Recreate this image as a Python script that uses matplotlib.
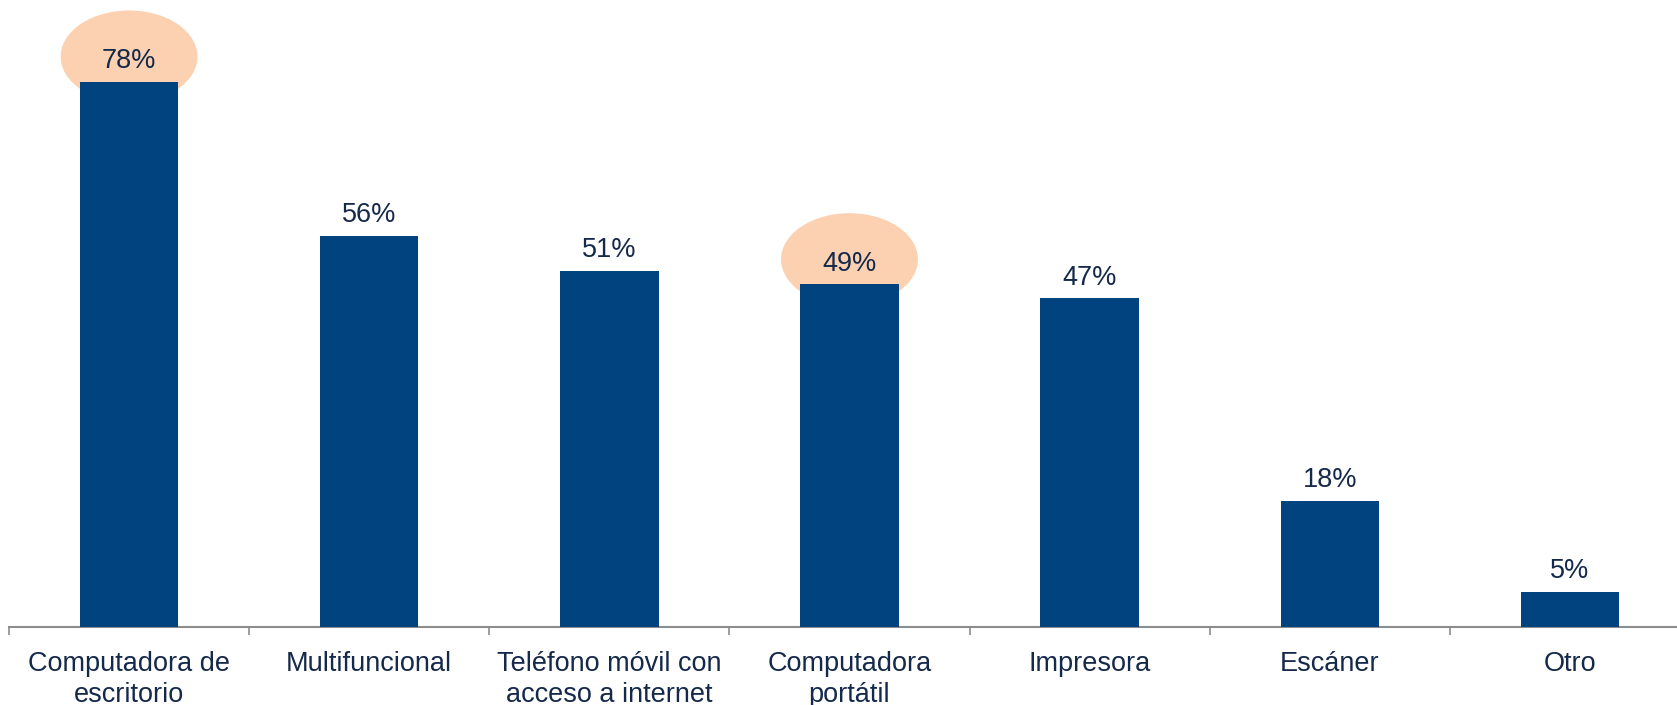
import matplotlib.pyplot as plt
from matplotlib.patches import Ellipse

categories = ["Computadora de\nescritorio", "Multifuncional", "Teléfono móvil con\nacceso a internet",
              "Computadora\nportátil", "Impresora", "Escáner", "Otro"]
values = [78, 56, 51, 49, 47, 18, 5]
highlighted = [0, 3]

bar_color = "#00437F"
text_color = "#15294A"
halo_color = "#FCD1B1"

plt.rcParams['font.family'] = ['Liberation Sans', 'DejaVu Sans']

fig = plt.figure(figsize=(16.77, 7.05), dpi=100)
# axis spans slightly past the right edge like the original slide
ax = fig.add_axes([9 / 1677, 78 / 705, 1681 / 1677, 627 / 705])

x = list(range(len(values)))
ax.bar(x, values, width=0.41, color=bar_color, zorder=3)

for i in highlighted:
    ax.add_patch(Ellipse((i, values[i] + 3.6), 0.57, 13.2, color=halo_color, zorder=2, lw=0))

for i, v in enumerate(values):
    ax.annotate(f"{v}%", (i, v), xytext=(0, 15), textcoords="offset points",
                ha="center", va="center", fontsize=19.5, color=text_color, zorder=4)

ax.set_xlim(-0.5, len(values) - 0.5)
ax.set_ylim(0, 89.7)
ax.set_xticks([i + 0.5 for i in range(-1, len(values))], minor=False)
ax.set_xticklabels([])
ax.set_xticks(x, minor=True)
ax.set_xticklabels(categories, minor=True, fontsize=19.5, color=text_color, linespacing=1.25)
ax.tick_params(axis="x", which="major", length=6, width=1.2, color="#8C8C8C", direction="out")
ax.tick_params(axis="x", which="minor", length=0, pad=17)
ax.set_yticks([])
for s in ["top", "right", "left"]:
    ax.spines[s].set_visible(False)
ax.spines["bottom"].set_color("#8C8C8C")
ax.spines["bottom"].set_linewidth(1.5)

fig.savefig("out.png", dpi=100)
